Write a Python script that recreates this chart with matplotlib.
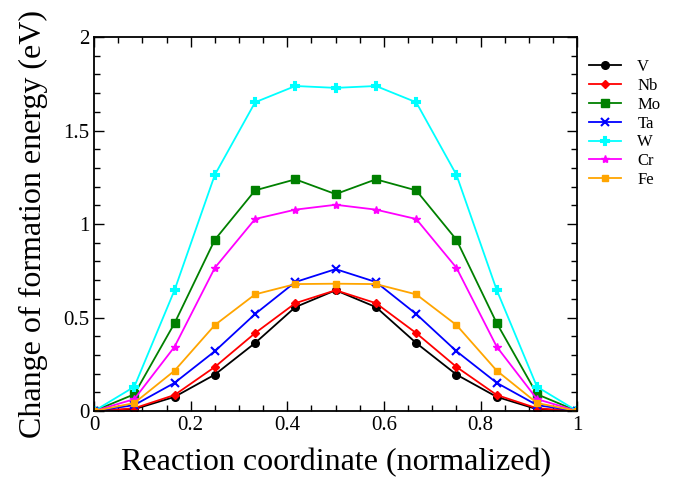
import numpy as np
import matplotlib
matplotlib.use("Agg")
import matplotlib.pyplot as plt
from matplotlib.ticker import MultipleLocator

plt.rcParams['font.family'] = ['Liberation Serif', 'DejaVu Serif']

# reaction coordinate: 13 images along the path
coord = np.linspace(0, 1, 13)

V = [0, 0.01, 0.076, 0.195, 0.364, 0.556, 0.646, 0.556, 0.364, 0.195, 0.076, 0.01, 0]
Nb = [0, 0.015, 0.086, 0.236, 0.417, 0.577, 0.646, 0.577, 0.417, 0.236, 0.086, 0.015, 0]
Mo = [0, 0.09, 0.47, 0.916, 1.18, 1.239, 1.16, 1.239, 1.18, 0.916, 0.47, 0.09, 0]
Ta = [0, 0.032, 0.151, 0.32, 0.519, 0.69, 0.759, 0.69, 0.519, 0.32, 0.151, 0.032, 0]
W = [0, 0.13, 0.647, 1.263, 1.651, 1.738, 1.728, 1.738, 1.651, 1.263, 0.647, 0.13, 0]
Cr = [0, 0.064, 0.344, 0.766, 1.027, 1.077, 1.103, 1.077, 1.027, 0.766, 0.344, 0.064, 0]
Fe = [0, 0.043, 0.216, 0.46, 0.624, 0.679, 0.681, 0.679, 0.624, 0.46, 0.216, 0.043, 0]

series = [
    ("V", V, "black", "o", 5.5),
    ("Nb", Nb, "red", "D", 4.5),
    ("Mo", Mo, "green", "s", 5.5),
    ("Ta", Ta, "blue", "x", 5.5),
    ("W", W, "cyan", "P", 5.5),
    ("Cr", Cr, "magenta", "*", 6),
    ("Fe", Fe, "orange", "s", 4.5),
]

fig = plt.figure(figsize=(6.74, 4.78), dpi=100)
ax = fig.add_axes([0.1395, 0.140, 0.717, 0.7826])

for name, vals, color, marker, ms in series:
    ax.plot(coord, vals, color=color, marker=marker, markersize=ms,
            linewidth=1.3, markeredgewidth=1.5 if marker in "xP" else 1.0,
            label=name)

ax.set_xlim(0, 1)
ax.set_ylim(0, 2)
ax.xaxis.set_major_locator(MultipleLocator(0.2))
ax.xaxis.set_minor_locator(MultipleLocator(0.05))
ax.yaxis.set_major_locator(MultipleLocator(0.5))
ax.yaxis.set_minor_locator(MultipleLocator(0.1))
ax.xaxis.set_major_formatter(plt.FuncFormatter(lambda v, p: "%g" % round(v, 2)))
ax.yaxis.set_major_formatter(plt.FuncFormatter(lambda v, p: "%g" % round(v, 2)))
ax.tick_params(which="both", direction="in", top=True, right=True,
               labelsize=15, width=1.0)
ax.tick_params(which="major", length=7)
ax.tick_params(which="minor", length=4)
for sp in ax.spines.values():
    sp.set_linewidth(1.3)

ax.set_xlabel("Reaction coordinate (normalized)", fontsize=23, labelpad=9)
ax.set_ylabel("Change of formation energy (eV)", fontsize=23, labelpad=11)

ax.legend(loc="upper left", bbox_to_anchor=(1.0, 0.972), frameon=False,
          fontsize=12, handlelength=1.9, handletextpad=1.0,
          labelspacing=0.17, borderaxespad=0.3)

fig.savefig("out.png", dpi=100)
